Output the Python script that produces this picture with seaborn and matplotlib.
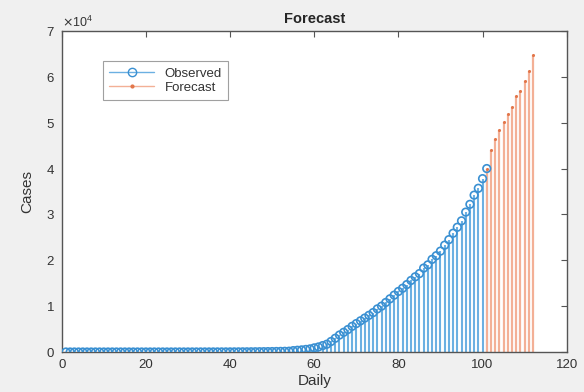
import numpy as np
import pandas as pd
import matplotlib
matplotlib.use("Agg")
import matplotlib.pyplot as plt
from matplotlib.lines import Line2D
from matplotlib.legend_handler import HandlerLine2D
import seaborn as sns

# Daily cumulative cases (observed) and forecast continuation
observed_days = list(range(1, 102))
observed_cases = [
    0, 0, 0, 0, 0, 0, 0, 0, 0, 0,
    1, 1, 1, 1, 1, 2, 2, 2, 2, 3,
    3, 3, 3, 4, 4, 5, 5, 6, 6, 7,
    8, 9, 10, 11, 12, 14, 16, 18, 20, 23,
    26, 30, 34, 39, 45, 52, 60, 70, 82, 96,
    112, 130, 150, 175, 300, 380, 460, 560, 680, 900,
    1100, 1400, 1700, 2300, 3000, 3700, 4300, 4900, 5600, 6200,
    6800, 7400, 8000, 8600, 9400, 10000, 10800, 11600, 12400, 13200,
    13900, 14700, 15600, 16400, 17100, 18300, 19000, 20200, 21000, 22000,
    23300, 24500, 25900, 27200, 28600, 30500, 32200, 34200, 35700, 37800,
    40000,
]
forecast_days = list(range(101, 113))
forecast_cases = [40000, 44000, 46500, 48400, 50200, 52000,
                  53500, 55800, 56900, 59000, 61300, 64700]

x_ticks = [0, 20, 40, 60, 80, 100, 120]
y_ticks = [0, 10000, 20000, 30000, 40000, 50000, 60000, 70000]

obs = pd.DataFrame({"Daily": observed_days, "Cases": observed_cases})
fc = pd.DataFrame({"Daily": forecast_days, "Cases": forecast_cases})

sns.set_style("white")
plt.rcParams["font.family"] = ["Liberation Sans", "DejaVu Sans"]

blue_stem = "#6bb0e2"
blue_mark = "#3a90d2"
orange_stem = "#f3b096"
orange_mark = "#e2764a"
axis_gray = "#555555"

fig = plt.figure(figsize=(5.84, 3.92), dpi=100, facecolor="#f0f0f0")
ax = fig.add_axes([0.1057, 0.102, 0.8647, 0.819])
ax.set_facecolor("white")

# stems
ax.vlines(obs["Daily"], 0, obs["Cases"], color=blue_stem, lw=1.5, zorder=2)
ax.vlines(fc["Daily"], 0, fc["Cases"], color=orange_stem, lw=1.6, zorder=2)

# stem heads
sns.scatterplot(data=obs, x="Daily", y="Cases", ax=ax, marker="o", s=30,
                facecolor="none", edgecolor=blue_mark, linewidth=1.2,
                zorder=3, legend=False)
sns.scatterplot(data=fc, x="Daily", y="Cases", ax=ax, marker="o", s=5,
                color=orange_mark, edgecolor=orange_mark, linewidth=0,
                zorder=4, legend=False)

ax.set_xlim(0, 120)
ax.set_ylim(0, 70000)
ax.set_xticks(x_ticks)
ax.set_yticks(y_ticks)
ax.ticklabel_format(axis="y", style="sci", scilimits=(4, 4), useMathText=True)
ax.yaxis.get_offset_text().set_fontsize(9)
ax.yaxis.get_offset_text().set_color("#333333")

ax.tick_params(direction="in", length=4, width=0.8, colors=axis_gray,
               labelcolor="#333333", labelsize=9.5, top=True, right=True,
               pad=5)
for sp in ax.spines.values():
    sp.set_visible(True)
    sp.set_color(axis_gray)
    sp.set_linewidth(1.0)

ax.set_title("Forecast", fontsize=10.5, fontweight="bold", pad=6)
ax.set_xlabel("Daily", fontsize=11, color="#333333", labelpad=2)
ax.set_ylabel("Cases", fontsize=11, color="#333333", labelpad=8)


class EndMarkerHandler(HandlerLine2D):
    def get_xdata(self, legend, xdescent, ydescent, width, height, fontsize):
        xdata = np.array([-xdescent, -xdescent + width])
        return xdata, np.array([-xdescent + width])


h_obs = Line2D([], [], color=blue_stem, lw=1.0, marker="o", markersize=6,
               markerfacecolor="none", markeredgecolor=blue_mark)
h_fc = Line2D([], [], color=orange_stem, lw=1.0, marker="o", markersize=2,
              markerfacecolor=orange_mark, markeredgecolor=orange_mark)
leg = ax.legend([h_obs, h_fc], ["Observed", "Forecast"],
                loc="upper left", bbox_to_anchor=(0.082, 0.905),
                borderaxespad=0, fontsize=9.5, frameon=True, fancybox=False,
                borderpad=0.45, handlelength=3.4, handletextpad=0.8,
                labelspacing=0.15,
                handler_map={Line2D: EndMarkerHandler()})
leg.get_frame().set_edgecolor("#888888")
leg.get_frame().set_linewidth(0.8)
for t in leg.get_texts():
    t.set_color("#333333")

fig.savefig("out.png", dpi=100, facecolor=fig.get_facecolor())
